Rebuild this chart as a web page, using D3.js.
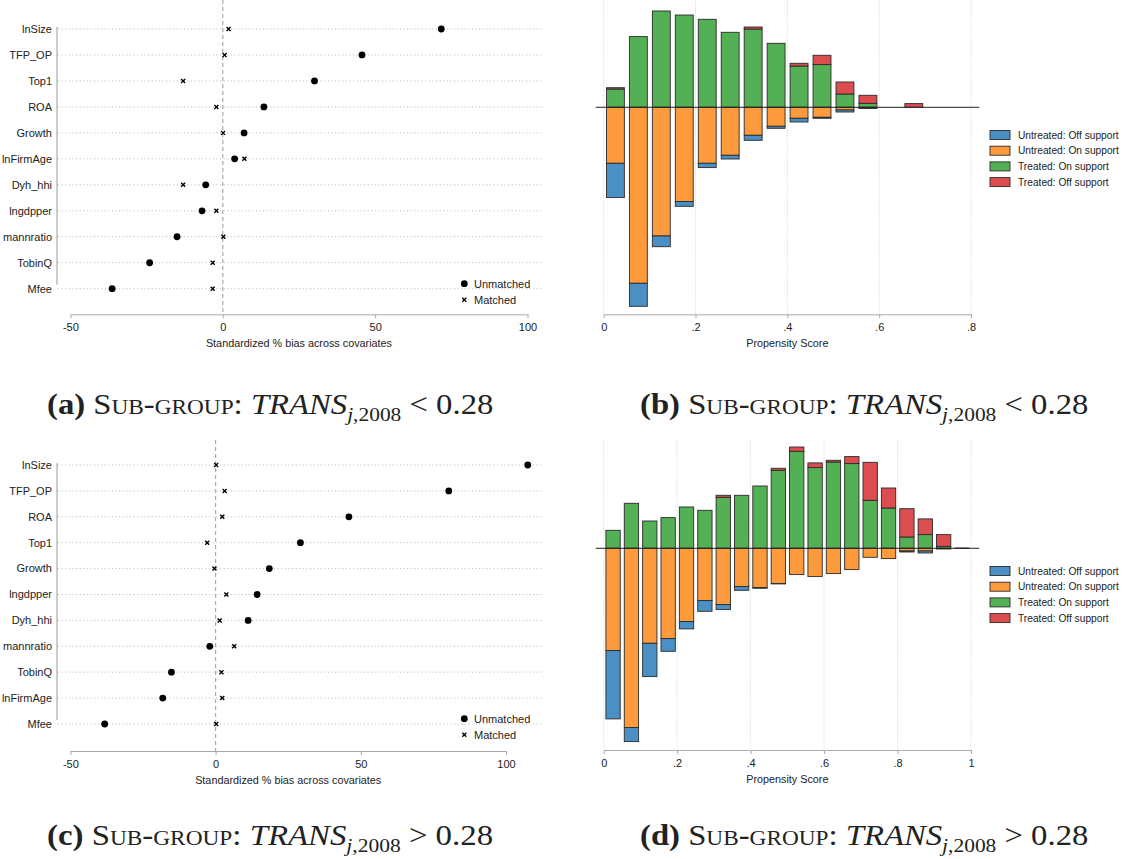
<!DOCTYPE html>
<html>
<head>
<meta charset="utf-8">
<script src="https://cdn.jsdelivr.net/npm/d3@7"></script>
<style>
    body { margin: 0; background: #fff; }
    svg { display: block; }
    text { font-family: "Liberation Sans", Arial, sans-serif; fill: #222; }
</style>
</head>
<body>
<div id="app"></div>
<script>
// covariate balance, sub-group TRANS < 0.28
const varsA = ["lnSize", "TFP_OP", "Top1", "ROA", "Growth", "lnFirmAge", "Dyh_hhi", "lngdpper", "mannratio", "TobinQ", "Mfee"];
const unmatchedA = [71.7, 45.7, 30.1, 13.5, 7.0, 3.9, -5.6, -6.8, -15.0, -24.0, -36.3];
const matchedA = [1.9, 0.6, -13.0, -2.1, 0.1, 7.1, -13.0, -2.1, 0.2, -3.3, -3.3];

// covariate balance, sub-group TRANS > 0.28
const varsC = ["lnSize", "TFP_OP", "ROA", "Top1", "Growth", "lngdpper", "Dyh_hhi", "mannratio", "TobinQ", "lnFirmAge", "Mfee"];
const unmatchedC = [107.5, 80.3, 45.9, 29.2, 18.5, 14.3, 11.2, -2.0, -15.2, -18.2, -38.2];
const matchedC = [0.2, 3.1, 2.3, -2.9, -0.4, 3.7, 1.4, 6.4, 2.0, 2.3, 0.2];

const biasTicks = [-50, 0, 50, 100];

// propensity score histograms, bins of width 0.05
const binWidth = 0.05;
const treatedOnB = [18.3, 70.7, 96.3, 92.3, 88, 75, 78.3, 64, 41.3, 42.7, 13.3, 4, 0, 0];
const treatedOffB = [1.3, 0, 0, 0, 0, 0, 2, 0, 2.7, 9.3, 12, 8, 0, 3.7];
const untreatedOnB = [56, 176, 128.7, 94.3, 56, 48, 28, 19, 11, 10, 2.7, 0.5, 0, 0];
const untreatedOffB = [34.3, 23, 10.7, 4.7, 4.3, 3.7, 5, 2, 3.7, 1, 2, 0.7, 0, 0];
const psTicksB = [0, 0.2, 0.4, 0.6, 0.8];

const treatedOnD = [18, 45, 27.3, 30.7, 41.3, 38, 51, 53, 62.3, 78, 97, 80.7, 86.3, 84.7, 48, 40.3, 11.3, 13.7, 2, 0.3];
const treatedOffD = [0, 0, 0, 0, 0, 0, 2, 0, 0, 2, 4.3, 4.7, 1.7, 7, 38, 20, 28.3, 15.7, 11.7, 0];
const untreatedOnD = [102.3, 179.3, 95, 90.3, 73.3, 52.3, 56.3, 38.3, 39.3, 35.3, 26.3, 28.3, 25.3, 21.3, 9, 10.3, 2.7, 2.7, 0, 0];
const untreatedOffD = [68.3, 14, 33.3, 12.7, 7.3, 10.7, 5, 3.7, 0.7, 0.3, 0, 0, 0, 0, 0, 0, 1, 2, 0.7, 0];
const psTicksD = [0, 0.2, 0.4, 0.6, 0.8, 1];

const groups = ["Untreated: Off support", "Untreated: On support", "Treated: On support", "Treated: Off support"];
const groupColors = ["#4a90c4", "#fd9a3c", "#54b054", "#dc4d50"];

const captions = [
    { tag: "(a)", op: "<" },
    { tag: "(b)", op: "<" },
    { tag: "(c)", op: ">" },
    { tag: "(d)", op: ">" }
];

const svg = d3.select("#app")
    .append("svg")
    .attr("width", 1126)
    .attr("height", 859);

function drawBalance(o) {
    const g = svg.append("g");
    const x = d3.scaleLinear().domain([-50, 100]).range(o.xRange);
    const y = d3.scalePoint().domain(o.vars).range([o.rowTop, o.rowBottom]);

    // row guides
    g.selectAll(".row")
        .data(o.vars)
        .join("line")
        .attr("x1", 58).attr("x2", 543)
        .attr("y1", d => y(d)).attr("y2", d => y(d))
        .attr("stroke", "#b5b5b5")
        .attr("stroke-dasharray", "1,2.6");

    g.append("line")
        .attr("x1", 57).attr("x2", 57)
        .attr("y1", o.rowTop - 2).attr("y2", o.rowBottom - 4)
        .attr("stroke", "#999");

    g.append("line")
        .attr("x1", x(0)).attr("x2", x(0))
        .attr("y1", o.top).attr("y2", o.axisY)
        .attr("stroke", "#aaa")
        .attr("stroke-width", 1.2)
        .attr("stroke-dasharray", "4,3");

    g.selectAll(".lab")
        .data(o.vars)
        .join("text")
        .attr("x", 52)
        .attr("y", d => y(d))
        .attr("dy", "0.35em")
        .attr("text-anchor", "end")
        .attr("font-size", 11)
        .text(d => d);

    g.selectAll(".um")
        .data(o.unmatched)
        .join("circle")
        .attr("cx", d => x(d))
        .attr("cy", (d, i) => y(o.vars[i]))
        .attr("r", 3.4)
        .attr("fill", "#000");

    const cross = (cx, cy) => `M${cx - 2},${cy - 2}L${cx + 2},${cy + 2}M${cx - 2},${cy + 2}L${cx + 2},${cy - 2}`;

    g.selectAll(".mt")
        .data(o.matched)
        .join("path")
        .attr("d", (d, i) => cross(x(d), y(o.vars[i])))
        .attr("stroke", "#000")
        .attr("stroke-width", 1.4);

    const ax = g.append("g")
        .attr("transform", `translate(0,${o.axisY})`)
        .call(d3.axisBottom(x).tickValues(biasTicks).tickFormat(d => String(d))
            .tickSize(4).tickSizeOuter(0).tickPadding(5));
    ax.selectAll("path, line").attr("stroke", "#aaa");
    ax.selectAll("text").attr("font-size", 11).attr("font-family", null).attr("fill", "#222");

    g.append("text")
        .attr("x", (x(-50) + x(100)) / 2)
        .attr("y", o.axisY + 33)
        .attr("text-anchor", "middle")
        .attr("font-size", 10.8)
        .text("Standardized % bias across covariates");

    // legend
    g.append("circle").attr("cx", 464.3).attr("cy", o.legendY).attr("r", 3.4).attr("fill", "#000");
    g.append("path").attr("d", cross(464.3, o.legendY + 16)).attr("stroke", "#000").attr("stroke-width", 1.4);
    g.append("text").attr("x", 474).attr("y", o.legendY).attr("dy", "0.35em").attr("font-size", 11).text("Unmatched");
    g.append("text").attr("x", 474).attr("y", o.legendY + 16).attr("dy", "0.35em").attr("font-size", 11).text("Matched");
}

function drawPs(o) {
    const g = svg.append("g");
    const x = d3.scaleLinear().domain([0, o.ticks[o.ticks.length - 1]]).range([603.7, 971]);
    const y = d3.scaleLinear().domain(o.yDomain).range([o.axisY, o.top]);

    g.selectAll(".grid")
        .data(o.ticks)
        .join("line")
        .attr("x1", d => x(d)).attr("x2", d => x(d))
        .attr("y1", o.top).attr("y2", o.axisY)
        .attr("stroke", "#d4d4d4")
        .attr("stroke-dasharray", "1,1.5");

    // stacked segments: [bin, lower value, upper value, group]
    const segs = [];
    o.tOn.forEach((v, i) => {
        segs.push([i, 0, v, 2]);
        segs.push([i, v, v + o.tOff[i], 3]);
        segs.push([i, -o.uOn[i], 0, 1]);
        segs.push([i, -o.uOn[i] - o.uOff[i], -o.uOn[i], 0]);
    });

    g.selectAll(".bar")
        .data(segs.filter(s => s[2] - s[1] > 0))
        .join("rect")
        .attr("x", d => x(d[0] * binWidth + 0.006))
        .attr("width", x(0.039) - x(0))
        .attr("y", d => y(d[2]))
        .attr("height", d => y(d[1]) - y(d[2]))
        .attr("fill", d => groupColors[d[3]])
        .attr("stroke", "#2b2b2b")
        .attr("stroke-width", 0.9);

    g.append("line")
        .attr("x1", 595.7).attr("x2", 979.3)
        .attr("y1", y(0)).attr("y2", y(0))
        .attr("stroke", "#222");

    const fmt = d => d === 0 ? "0" : d === 1 ? "1" : d3.format(".1f")(d).replace(/^0/, "");
    const ax = g.append("g")
        .attr("transform", `translate(0,${o.axisY})`)
        .call(d3.axisBottom(x).tickValues(o.ticks).tickFormat(fmt).tickSize(4).tickSizeOuter(0).tickPadding(5));
    ax.selectAll("path, line").attr("stroke", "#aaa");
    ax.selectAll("text").attr("font-size", 11).attr("font-family", null).attr("fill", "#222");

    g.append("text")
        .attr("x", x.range()[0] / 2 + x.range()[1] / 2)
        .attr("y", o.axisY + 33)
        .attr("text-anchor", "middle")
        .attr("font-size", 10.8)
        .text("Propensity Score");

    const leg = g.selectAll(".leg")
        .data(groups)
        .join("g")
        .attr("transform", (d, i) => `translate(990,${o.legendY + i * 15.7})`);
    leg.append("rect")
        .attr("y", -4.5).attr("width", 20).attr("height", 9)
        .attr("fill", (d, i) => groupColors[i])
        .attr("stroke", "#2b2b2b")
        .attr("stroke-width", 0.9);
    leg.append("text")
        .attr("x", 28).attr("dy", "0.35em")
        .attr("font-size", 10.2)
        .text(d => d);
}

function drawCaption(c, x0, x1, cy) {
    const t = svg.append("text")
        .attr("font-size", 29)
        .style("font-family", "'Liberation Serif', 'Times New Roman', serif")
        .attr("fill", "#000");
    t.append("tspan").attr("font-weight", "bold").text(c.tag);
    t.append("tspan").text(" ");
    t.append("tspan").style("font-variant", "small-caps").text("Sub-group:");
    t.append("tspan").text(" ");
    t.append("tspan").attr("font-style", "italic").text("TRANS");
    t.append("tspan").attr("font-style", "italic").attr("font-size", 19).attr("dy", 7).text("j");
    t.append("tspan").attr("font-size", 19).text(",2008");
    t.append("tspan").attr("dy", -7).text(" " + c.op + " 0.28");
    // stretch the line to the caption width of the page
    const w = t.node().getBBox().width;
    t.attr("transform", `translate(${x0},${cy}) scale(${(x1 - x0) / w},1)`);
}

drawBalance({ vars: varsA, unmatched: unmatchedA, matched: matchedA, xRange: [70.4, 527.5],
    rowTop: 29, rowBottom: 288.7, top: 0, axisY: 314.3, legendY: 283.7 });
drawBalance({ vars: varsC, unmatched: unmatchedC, matched: matchedC, xRange: [70.4, 506],
    rowTop: 465, rowBottom: 724, top: 440, axisY: 751, legendY: 718.7 });

drawPs({ tOn: treatedOnB, tOff: treatedOffB, uOn: untreatedOnB, uOff: untreatedOffB, ticks: psTicksB,
    yDomain: [-207, 107.3], top: 0, axisY: 314.3, legendY: 135 });
drawPs({ tOn: treatedOnD, tOff: treatedOffD, uOn: untreatedOnD, uOff: untreatedOffD, ticks: psTicksD,
    yDomain: [-201.7, 108.3], top: 440, axisY: 750, legendY: 571 });

drawCaption(captions[0], 47, 490, 414);
drawCaption(captions[1], 640, 1085, 414);
drawCaption(captions[2], 47, 490, 845);
drawCaption(captions[3], 640, 1085, 845);
</script>
</body>
</html>
